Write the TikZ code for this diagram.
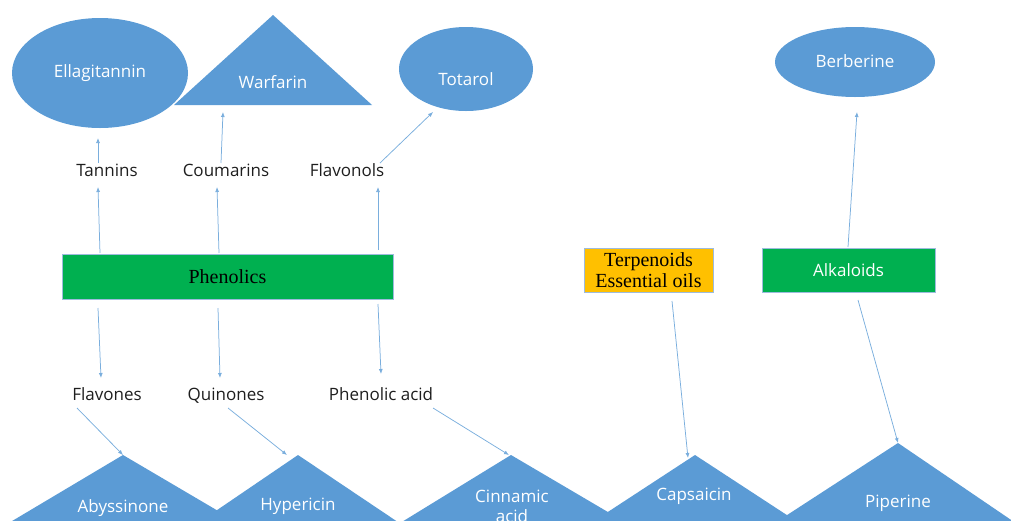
\documentclass[tikz,border=0pt]{standalone}
\usepackage{fontspec}
\setmainfont{Liberation Serif}
\newfontfamily\osans{Open Sans}
\usetikzlibrary{arrows.meta,shapes.geometric}
\definecolor{shp}{HTML}{5B9BD5}
\definecolor{lnk}{HTML}{7AAEDD}
\definecolor{grn}{HTML}{00B050}
\definecolor{org}{HTML}{FFC000}
\definecolor{bord}{HTML}{9DBBDD}
\definecolor{ink}{HTML}{1E1E1E}
\tikzset{
  arr/.style={draw=lnk, line width=0.75pt, -{Latex[length=5pt,width=4pt]}},
  lbl/.style={font=\osans\fontsize{17}{19}\selectfont, text=ink, inner sep=0pt, anchor=base},
  wlbl/.style={font=\osans\fontsize{17}{19}\selectfont, text=white, inner sep=0pt, align=center},
  oval/.style={ellipse, fill=shp, inner sep=0pt},
  boxn/.style={rectangle, draw=bord, line width=0.8pt, inner sep=0pt},
}
\begin{document}
\begin{tikzpicture}[x=1pt,y=-1pt]
\useasboundingbox (0,0) rectangle (1011,520);
% top shapes
\node[oval, minimum width=176pt, minimum height=110pt] (ell) at (100,73) {};
\node[wlbl] (ellT) at (100,73) {Ellagitannin};
\fill[shp] (273,15) coordinate (warA) -- (372,105) -- (174,105) -- cycle;
\node[wlbl] (warT) at (273,82) {Warfarin};
\node[oval, minimum width=134pt, minimum height=84pt] (tot) at (466,69) {};
\node[wlbl] (totT) at (466,79) {Totarol};
\node[oval, minimum width=160pt, minimum height=70pt] (ber) at (855,62) {};
\node[wlbl] (berT) at (855,61) {Berberine};
% labels (base anchored)
\node[lbl] (tan) at (107,176) {Tannins};
\node[lbl] (cou) at (226,176) {Coumarins};
\node[lbl] (fol) at (347,176) {Flavonols};
\node[lbl] (fne) at (107,400) {Flavones};
\node[lbl] (qui) at (226,400) {Quinones};
\node[lbl] (pha) at (381,400) {Phenolic acid};
% boxes
\node[boxn, fill=grn, minimum width=331pt, minimum height=45pt, font=\fontsize{20}{22}\selectfont] (ph) at (227.5,276.5) {Phenolics};
\node[boxn, fill=org, minimum width=129pt, minimum height=44pt, align=center, font=\fontsize{20}{21}\selectfont] (ter) at (648.5,270) {Terpenoids\\Essential oils};
\node[boxn, fill=grn, minimum width=173pt, minimum height=44pt, font=\osans\fontsize{17}{19}\selectfont, text=white] (alk) at (848.5,270) {Alkaloids};
% bottom triangles
\begin{scope}
\clip (0,0) rectangle (1011,520);
\fill[shp] (123,455) coordinate (abyA) -- (123+1.7*90,545) -- (123-1.68*90,545) -- cycle;
\fill[shp] (298,455) coordinate (hypA) -- (298+1.49*90,545) -- (298-1.47*90,545) -- cycle;
\fill[shp] (511,455) coordinate (cinA) -- (511+1.7*90,545) -- (511-1.63*90,545) -- cycle;
\fill[shp] (695,455) coordinate (capA) -- (695+1.53*90,545) -- (695-1.53*90,545) -- cycle;
\fill[shp] (898,443) coordinate (pipA) -- (898+1.47*102,545) -- (898-1.54*102,545) -- cycle;
\end{scope}
\node[wlbl] (abyT) at (123,508) {Abyssinone};
\node[wlbl] (hypT) at (298,506) {Hypericin};
\node[wlbl, font=\osans\fontsize{17}{20}\selectfont] (cinT) at (512,506) {Cinnamic\\acid};
\node[wlbl] (capT) at (694,496) {Capsaicin};
\node[wlbl] (pipT) at (898,503) {Piperine};
% connector ports
\coordinate (tanU) at (98,163);   \coordinate (ellD) at (98,138);
\coordinate (couU) at (221,163);  \coordinate (warD) at (223,112);
\coordinate (folU) at (380,163);  \coordinate (totD) at (433,112);
\coordinate (phT1) at (100,253);  \coordinate (tanD) at (98,187);
\coordinate (phT2) at (219,253);  \coordinate (couD) at (217,187);
\coordinate (phT3) at (378,250);  \coordinate (folD) at (378,187);
\coordinate (phB1) at (98,308);   \coordinate (fneU) at (101,378);
\coordinate (phB2) at (218,308);  \coordinate (quiU) at (220,378);
\coordinate (phB3) at (378,304);  \coordinate (phaU) at (381,374);
\coordinate (fneD) at (77,408);
\coordinate (quiD) at (228,408);  \coordinate (hypE) at (287,455);
\coordinate (phaD) at (433,408);  \coordinate (cinE) at (509,455);
\coordinate (terD) at (672,301);  \coordinate (capE) at (688,458);
\coordinate (alkU) at (848,247);  \coordinate (berD) at (857,112);
\coordinate (alkD) at (858,300);
% connectors
\draw[arr] (tanU) -- (ellD);
\draw[arr] (couU) -- (warD);
\draw[arr] (folU) -- (totD);
\draw[arr] (phT1) -- (tanD);
\draw[arr] (phT2) -- (couD);
\draw[arr] (phT3) -- (folD);
\draw[arr] (phB1) -- (fneU);
\draw[arr] (phB2) -- (quiU);
\draw[arr] (phB3) -- (phaU);
\draw[arr] (fneD) -- (abyA);
\draw[arr] (quiD) -- (hypE);
\draw[arr] (phaD) -- (cinE);
\draw[arr] (terD) -- (capE);
\draw[arr] (alkU) -- (berD);
\draw[arr] (alkD) -- (pipA);
\end{tikzpicture}
\end{document}
